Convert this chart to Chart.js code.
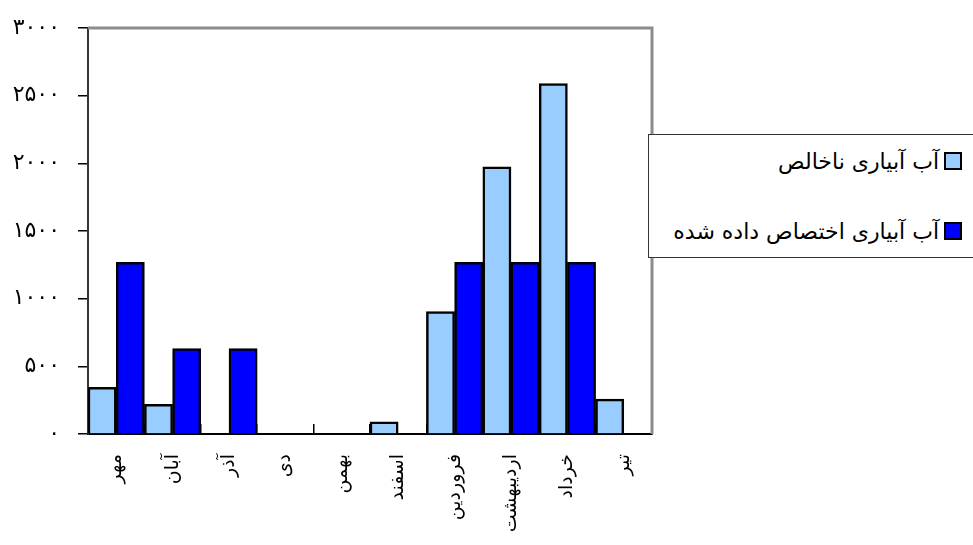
<!DOCTYPE html>
<html>
<head>
<meta charset="utf-8">
<script src="https://cdn.jsdelivr.net/npm/chart.js@4"></script>
<style>
  html, body { margin: 0; padding: 0; background: #fff; }
  #wrap { position: relative; width: 973px; height: 545px; overflow: hidden; }
  #legend {
    position: absolute; left: 648px; top: 134px; width: 340px; height: 124px;
    box-sizing: border-box; border: 1.5px solid #333; background: #fff;
    direction: rtl; padding: 8px 25px 0 0;
    font-family: "DejaVu Sans", sans-serif; font-size: 22px; color: #000;
  }
  .item { display: flex; align-items: center; height: 36px; margin-bottom: 34px; white-space: nowrap; }
  .sw { width: 14px; height: 14px; border: 2px solid #000; margin-left: 5px; flex: none; }
</style>
</head>
<body>
<div id="wrap">
  <canvas id="chart" width="973" height="545"></canvas>
  <div id="legend"></div>
</div>
<script>
// داده‌ها
const categories = ["مهر", "آبان", "آذر", "دی", "بهمن", "اسفند", "فروردین", "اردیبهشت", "خرداد", "تیر"];
const impureWater = [345, 220, 0, 0, 0, 90, 905, 1975, 2590, 258];
const allocatedWater = [1268, 632, 632, 0, 0, 0, 1268, 1268, 1268, 0];
const seriesNames = ["آب آبیاری ناخالص", "آب آبیاری اختصاص داده شده"];
const seriesColors = ["#99CCFF", "#0000FF"];
const yTicks = [0, 500, 1000, 1500, 2000, 2500, 3000];

const faDigits = (v) => String(v).replace(/\d/g, d => "۰۱۲۳۴۵۶۷۸۹"[d]);

// قاب خاکستری بالا و راست
const frame = {
  id: "frame",
  beforeDatasetsDraw(chart) {
    const { ctx, chartArea: a } = chart;
    ctx.save();
    ctx.strokeStyle = "#8c8c8c";
    ctx.lineWidth = 3;
    ctx.beginPath();
    ctx.moveTo(a.left, a.top);
    ctx.lineTo(a.right, a.top);
    ctx.lineTo(a.right, a.bottom);
    ctx.stroke();
    ctx.restore();
  }
};

new Chart(document.getElementById("chart"), {
  type: "bar",
  data: {
    labels: categories,
    datasets: [
      { label: seriesNames[0], data: impureWater, backgroundColor: seriesColors[0], borderColor: "#000", borderWidth: 2.5 },
      { label: seriesNames[1], data: allocatedWater, backgroundColor: seriesColors[1], borderColor: "#000", borderWidth: 2.5 }
    ]
  },
  options: {
    responsive: false,
    animation: false,
    layout: { padding: { top: 28, right: 321, left: 0, bottom: 0 } },
    datasets: { bar: { categoryPercentage: 1, barPercentage: 1 } },
    plugins: { legend: { display: false }, tooltip: { enabled: false } },
    scales: {
      x: {
        grid: { offset: true, drawOnChartArea: false, tickLength: -10, color: "#000", lineWidth: 1.5 },
        border: { color: "#000", width: 2 },
        ticks: { color: "#000", font: { family: "DejaVu Sans", size: 19 }, minRotation: 90, maxRotation: 90, autoSkip: false, padding: 30 },
        afterFit: (s) => { s.height = 111; }
      },
      y: {
        min: 0, max: 3000,
        afterBuildTicks: (s) => { s.ticks = yTicks.map(v => ({ value: v })); },
        grid: { drawOnChartArea: false, tickLength: 10, color: "#000", lineWidth: 1.5 },
        border: { color: "#333", width: 2 },
        ticks: { color: "#000", font: { family: "DejaVu Sans", size: 22 }, padding: 18, callback: (v) => faDigits(v) },
        afterFit: (s) => { s.width = 88; s.paddingTop = 0; s.paddingBottom = 0; }
      }
    }
  },
  plugins: [frame]
});

// راهنما
document.getElementById("legend").innerHTML = seriesNames.map((n, i) =>
  `<div class="item"><span class="sw" style="background:${seriesColors[i]}"></span><span>${n}</span></div>`
).join("");
</script>
</body>
</html>
